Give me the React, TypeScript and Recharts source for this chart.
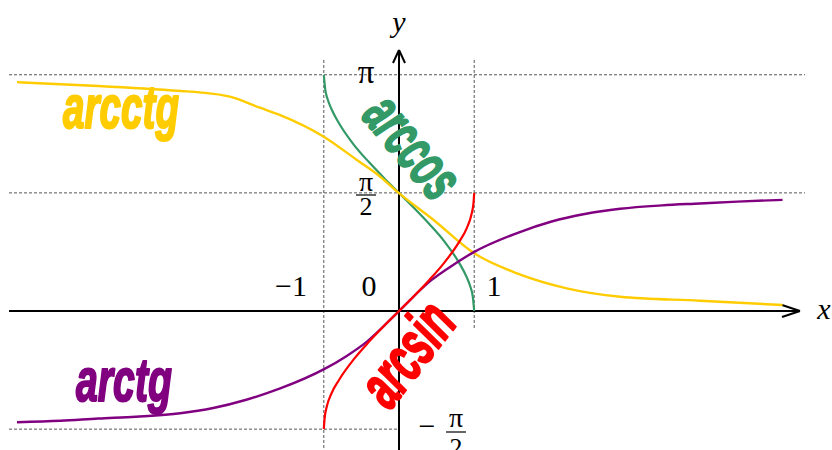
import { Line, LineChart, ReferenceLine, XAxis, YAxis } from 'recharts';

// function values (x and y in the same units)
const arccosX = [-1, -0.98, -0.95, -0.9, -0.8, -0.6, -0.4, -0.2, 0, 0.2, 0.4, 0.6, 0.8, 0.9, 0.95, 0.98, 1];
const arccosY = [3.14, 2.94, 2.82, 2.69, 2.5, 2.21, 1.98, 1.77, 1.57, 1.37, 1.16, 0.93, 0.64, 0.45, 0.32, 0.2, 0];

const arcsinX = [-1, -0.99, -0.96, -0.9, -0.8, -0.6, -0.4, -0.2, 0, 0.2, 0.4, 0.6, 0.8, 0.9, 0.96, 0.99, 1];
const arcsinY = [-1.571, -1.43, -1.27, -1.1, -0.92, -0.64, -0.41, -0.2, 0, 0.2, 0.41, 0.64, 0.92, 1.1, 1.27, 1.43, 1.571];

const arctgX = [-5.08, -4.5, -4, -3.5, -2.91, -2.47, -2.03, -1.58, -0.99, -0.7, -0.43, 0, 0.43, 0.7, 0.99, 1.58, 2.03, 2.47, 2.94, 3.5, 4.0, 4.5, 5.1];
const arctgY = [-1.48, -1.46, -1.43, -1.405, -1.36, -1.29, -1.18, -1.03, -0.77, -0.6, -0.41, 0, 0.41, 0.6, 0.78, 1.04, 1.19, 1.29, 1.36, 1.405, 1.43, 1.455, 1.478];

const arcctgX = [-5.08, -4, -2.9, -2.65, -2.25, -1.85, -1.58, -1.0, -0.56, -0.25, 0, 0.46, 1.0, 1.57, 2.23, 2.94, 4.0, 5.1];
const arcctgY = [3.043, 2.992, 2.926, 2.908, 2.85, 2.703, 2.606, 2.318, 2.008, 1.786, 1.567, 1.21, 0.767, 0.501, 0.302, 0.19, 0.137, 0.08];

const HALF_PI = Math.PI / 2;

const toPoints = (xs: number[], ys: number[]) => xs.map((x, i) => ({ x, y: ys[i] }));

const W = 832;
const H = 450;
// visible window of the plane
const X_DOMAIN: [number, number] = [-5.306, 5.758];
const Y_DOMAIN: [number, number] = [-1.848, 4.1356];

const serif = "'Liberation Serif', 'Times New Roman', serif";
const sans = "'Liberation Sans', Arial, sans-serif";

const dashed = { stroke: '#555', strokeDasharray: '3 2', strokeWidth: 1 };
const axis = { stroke: '#000', strokeWidth: 2 };

function FnLabel({ x, y, len, size, color, angle = 0, children }: {
  x: number; y: number; len: number; size: number; color: string; angle?: number; children: string;
}) {
  return (
    <g transform={`translate(${x} ${y}) rotate(${angle})`}>
      <text
        x={0}
        y={0}
        fontFamily={sans}
        fontWeight={700}
        fontStyle="italic"
        fontSize={size}
        textLength={len}
        lengthAdjust="spacingAndGlyphs"
        textAnchor="middle"
        fill={color}
        stroke={color}
        strokeWidth={2.2}
        strokeLinejoin="round"
      >
        {children}
      </text>
    </g>
  );
}

function Labels() {
  return (
    <svg width={W} height={H} style={{ position: 'absolute', left: 0, top: 0, pointerEvents: 'none' }}>
      <g fontFamily={serif} fill="#000">
        <text x={399} y={32} fontSize={30} fontStyle="italic" textAnchor="middle">y</text>
        <text x={824} y={319} fontSize={30} fontStyle="italic" textAnchor="middle">x</text>
        <text x={366} y={83} fontSize={33} textAnchor="middle">π</text>
        <text x={366} y={191} fontSize={28} textAnchor="middle">π</text>
        <line x1={356} x2={376} y1={195} y2={195} stroke="#000" strokeWidth={1.2} />
        <text x={366} y={215} fontSize={26} textAnchor="middle">2</text>
        <text x={291} y={296} fontSize={30} textAnchor="middle">−1</text>
        <text x={369} y={296} fontSize={30} textAnchor="middle">0</text>
        <text x={494} y={296} fontSize={30} textAnchor="middle">1</text>
        <text x={427} y={436} fontSize={30} textAnchor="middle">−</text>
        <text x={456} y={427} fontSize={28} textAnchor="middle">π</text>
        <line x1={446} x2={466} y1={432} y2={432} stroke="#000" strokeWidth={1.2} />
        <text x={456} y={456} fontSize={26} textAnchor="middle">2</text>
      </g>
      <FnLabel x={121} y={128} len={116} size={62} color="#FFCC00">arcctg</FnLabel>
      <FnLabel x={124} y={401} len={96} size={62} color="#800080">arctg</FnLabel>
      <g transform="translate(408 147)">
        <FnLabel x={-11} y={13} len={114} size={62} color="#339966" angle={50}>arccos</FnLabel>
      </g>
      <g transform="translate(412 356)">
        <FnLabel x={12} y={11} len={112} size={64} color="#FF0000" angle={-52}>arcsin</FnLabel>
      </g>
    </svg>
  );
}

const lineProps = { dataKey: 'y', type: 'monotone' as const, dot: false, activeDot: false, isAnimationActive: false };

export default function App() {
  return (
    <div style={{ position: 'absolute', left: 0, top: 0, width: W, height: H, background: '#fff' }}>
      <LineChart width={W} height={H} margin={{ top: 0, right: 0, bottom: 0, left: 0 }}>
        <XAxis type="number" dataKey="x" domain={X_DOMAIN} allowDataOverflow hide />
        <YAxis type="number" dataKey="y" domain={Y_DOMAIN} allowDataOverflow hide />

        <ReferenceLine segment={[{ x: -5.186, y: Math.PI }, { x: 5.399, y: Math.PI }]} {...dashed} />
        <ReferenceLine segment={[{ x: -5.186, y: HALF_PI }, { x: 5.399, y: HALF_PI }]} {...dashed} />
        <ReferenceLine segment={[{ x: -5.186, y: -HALF_PI }, { x: 0, y: -HALF_PI }]} {...dashed} />
        <ReferenceLine segment={[{ x: -1, y: 3.338 }, { x: -1, y: Y_DOMAIN[0] }]} {...dashed} />
        <ReferenceLine segment={[{ x: 1, y: 3.338 }, { x: 1, y: -0.253 }]} {...dashed} />

        <ReferenceLine segment={[{ x: -5.186, y: 0 }, { x: 5.332, y: 0 }]} {...axis} />
        <ReferenceLine segment={[{ x: 5.093, y: 0.08 }, { x: 5.332, y: 0 }]} {...axis} />
        <ReferenceLine segment={[{ x: 5.093, y: -0.08 }, { x: 5.332, y: 0 }]} {...axis} />
        <ReferenceLine segment={[{ x: 0, y: Y_DOMAIN[0] }, { x: 0, y: 3.471 }]} {...axis} />
        <ReferenceLine segment={[{ x: -0.08, y: 3.298 }, { x: 0, y: 3.471 }]} {...axis} />
        <ReferenceLine segment={[{ x: 0.08, y: 3.298 }, { x: 0, y: 3.471 }]} {...axis} />

        <Line {...lineProps} data={toPoints(arccosX, arccosY)} stroke="#339966" strokeWidth={2.2} />
        <Line {...lineProps} data={toPoints(arcctgX, arcctgY)} stroke="#FFCC00" strokeWidth={2.4} />
        <Line {...lineProps} data={toPoints(arctgX, arctgY)} stroke="#800080" strokeWidth={2.4} />
        <Line {...lineProps} data={toPoints(arcsinX, arcsinY)} stroke="#FF0000" strokeWidth={2.2} />
      </LineChart>
      <Labels />
    </div>
  );
}
